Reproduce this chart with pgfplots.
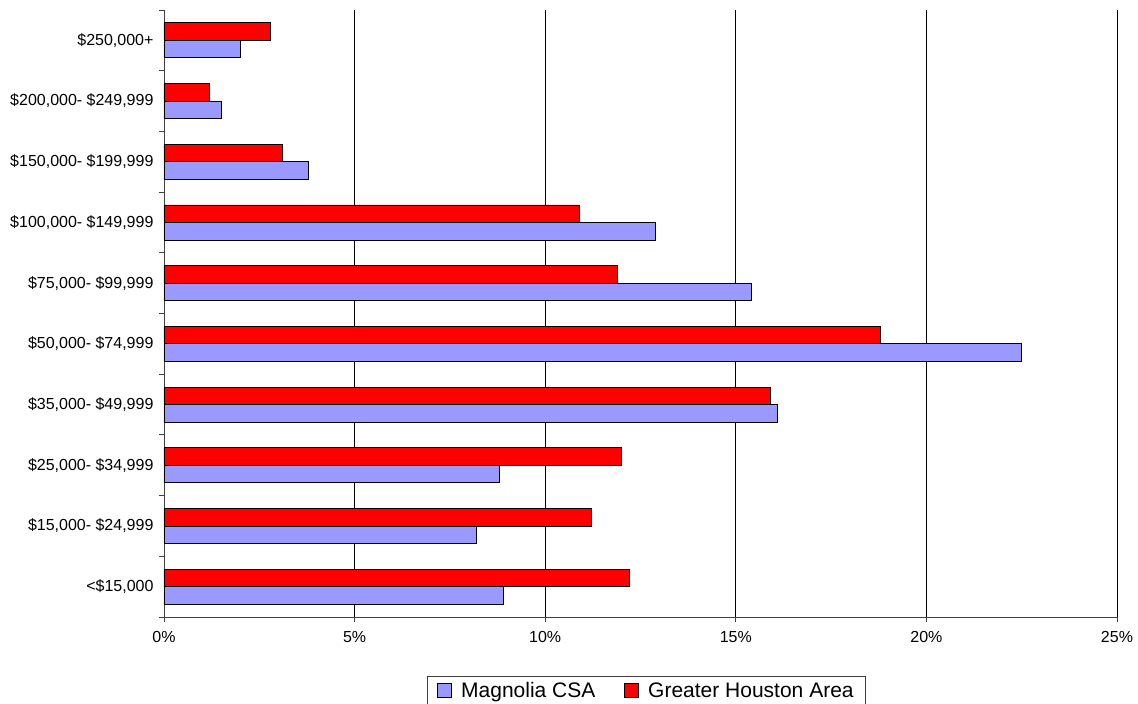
\documentclass[border=0pt]{standalone}
\usepackage{fontspec}
\setmainfont{Liberation Sans}
\usepackage{pgfplots}
\pgfplotsset{compat=1.18}
\definecolor{magblue}{HTML}{9999FF}
\definecolor{houred}{HTML}{FF0000}
\pgfplotsset{sqlegend/.style={legend image code/.code={\draw[##1] (0pt,-7pt) rectangle (14pt,7pt);}}}
\begin{document}
\begin{tikzpicture}
\begin{axis}[
  scale only axis,
  width=953pt, height=607pt,
  xbar, bar width=17.5pt,
  xmin=0, xmax=25,
  ymin=-0.5, ymax=9.5,
  axis x line*=bottom, axis y line*=left,
  axis line style={black!75, line width=0.8pt},
  xtick={0,5,...,25},
  xticklabels={0\%,5\%,10\%,15\%,20\%,25\%},
  ytick={0,...,9},
  yticklabels={{<\$15,000}, {\$15,000- \$24,999}, {\$25,000- \$34,999}, {\$35,000- \$49,999},
    {\$50,000- \$74,999}, {\$75,000- \$99,999}, {\$100,000- \$149,999},
    {\$150,000- \$199,999}, {\$200,000- \$249,999}, {\$250,000+}},
  minor ytick={-0.5,0.5,...,9.5},
  tick align=outside,
  major tick length=5pt, minor tick length=5pt,
  every major y tick/.style={draw=none},
  tick style={black!75, line width=0.8pt},
  xmajorgrids, grid style={black, line width=0.8pt},
  tick label style={font=\fontsize{16}{19}\selectfont},
  yticklabel style={xshift=-2pt},
  xticklabel style={yshift=-6pt},
  legend columns=2,
  legend style={at={(0.5063,-0.0972)}, anchor=north, draw=black!75,
    font=\fontsize{21}{25}\selectfont,
    /tikz/every odd column/.append style={column sep=7pt},
    /tikz/every even column/.append style={column sep=27pt},
    inner xsep=10pt, inner ysep=4pt},
]
\addplot[fill=magblue, draw=black, line width=0.8pt, bar shift=-8.75pt, sqlegend]
  coordinates {(8.9,0) (8.2,1) (8.8,2) (16.1,3) (22.5,4) (15.4,5) (12.9,6) (3.8,7) (1.5,8) (2.0,9)};
\addplot[fill=houred, draw=black, line width=0.8pt, bar shift=8.75pt, sqlegend]
  coordinates {(12.2,0) (11.2,1) (12.0,2) (15.9,3) (18.8,4) (11.9,5) (10.9,6) (3.1,7) (1.2,8) (2.8,9)};
\legend{Magnolia CSA, Greater Houston Area}
\end{axis}
\pgfresetboundingbox
\path[use as bounding box] ([xshift=-164pt,yshift=-87pt]current axis.south west)
  rectangle ([xshift=21pt,yshift=10pt]current axis.north east);
\end{tikzpicture}
\end{document}
